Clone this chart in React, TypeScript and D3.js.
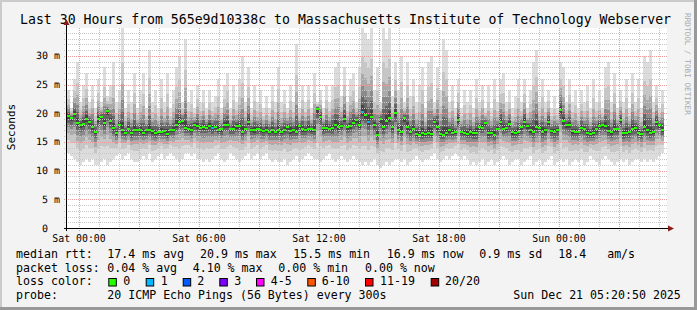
import React from "react";
import * as d3 from "d3";

// ---------- data ----------
const START = new Date(2025, 11, 19, 23, 24, 0);
const END = new Date(2025, 11, 21, 5, 24, 0);
const STEP_MIN = 9;

const medianMs = [
  19.5, 19.2, 19.9, 18.3, 17.9, 18.2, 19.0, 18.5, 17.6, 16.8,
  19.0, 19.4, 18.3, 20.4, 18.7, 17.4, 16.5, 18.0, 17.0, 16.6,
  17.2, 16.6, 17.1, 17.1, 17.0, 16.5, 17.0, 17.1, 16.9, 16.5,
  16.8, 16.7, 16.9, 16.4, 17.0, 17.1, 18.0, 18.5, 18.6, 17.4,
  17.3, 17.1, 18.0, 17.8, 17.5, 17.6, 17.5, 17.8, 17.4, 17.6,
  17.1, 17.2, 18.0, 17.9, 17.2, 17.3, 17.8, 17.7, 16.7, 17.3,
  18.4, 17.1, 17.0, 17.2, 17.1, 16.9, 17.1, 16.8, 17.0, 16.7,
  17.0, 16.8, 17.1, 17.6, 16.9, 17.0, 16.8, 17.7, 17.2, 17.1,
  17.3, 17.2, 17.1, 20.8, 19.4, 17.4, 17.5, 17.3, 17.4, 18.0,
  17.6, 17.8, 19.0, 17.6, 17.7, 18.3, 18.8, 18.0, 20.3, 19.7,
  18.5, 19.4, 18.0, 16.2, 19.0, 17.6, 18.6, 19.2, 17.6, 20.0,
  17.1, 16.8, 19.1, 17.6, 16.8, 17.3, 16.4, 16.3, 16.5, 16.4,
  16.6, 16.4, 18.5, 17.6, 16.4, 16.3, 16.5, 17.0, 16.6, 16.7,
  18.8, 16.8, 16.5, 16.4, 16.7, 16.5, 16.6, 17.6, 17.5, 18.3,
  16.5, 16.6, 16.2, 17.3, 18.5, 17.3, 17.5, 18.1, 16.7, 16.5,
  16.7, 17.6, 18.5, 17.8, 17.0, 16.8, 17.6, 17.5, 16.8, 17.0,
  18.5, 16.9, 16.8, 17.1, 20.6, 18.6, 18.0, 17.9, 16.9, 16.7,
  16.8, 17.4, 17.3, 16.6, 16.4, 16.6, 17.2, 17.8, 17.9, 17.7,
  16.9, 16.7, 17.3, 17.2, 18.8, 16.5, 16.6, 16.8, 17.3, 17.4,
  16.5, 16.4, 17.6, 17.0, 16.5, 16.8, 18.4, 17.9, 17.0,
];

const smokeHiMs = [
  24, 21, 26, 29, 22, 25, 27, 22, 25, 21,
  26, 22, 28, 23, 25, 29, 22, 24, 35, 21,
  24, 22, 27, 21, 24, 27, 21, 31, 22, 24,
  21, 26, 22, 27, 21, 24, 28, 30, 22, 33,
  22, 24, 21, 25, 22, 24, 21, 24, 22, 23,
  26, 21, 25, 27, 21, 25, 22, 26, 30, 22,
  28, 21, 25, 22, 24, 21, 23, 21, 25, 22,
  28, 22, 24, 21, 25, 22, 32, 21, 25, 22,
  25, 21, 27, 22, 24, 21, 25, 22, 25, 28,
  29, 23, 28, 22, 26, 27, 22, 28, 35, 34,
  33, 35, 24, 28, 22, 35, 33, 35, 23, 29,
  24, 30, 22, 29, 23, 26, 22, 25, 28, 21,
  29, 30, 22, 28, 24, 33, 31, 22, 25, 21,
  26, 21, 24, 22, 24, 21, 26, 22, 25, 21,
  25, 21, 26, 22, 26, 27, 22, 24, 21, 23,
  26, 22, 26, 21, 24, 29, 31, 22, 26, 22,
  24, 21, 23, 21, 29, 28, 22, 26, 22, 24,
  21, 24, 22, 25, 21, 26, 22, 24, 21, 28,
  29, 22, 27, 21, 24, 22, 26, 21, 27, 22,
  26, 21, 30, 29, 31, 22, 25, 21, 24,
];

const smokeLoMs = [
  13, 12.5, 12, 11.5, 11, 11.5, 12, 11.5, 12, 11,
  11, 11.5, 12, 11, 11.5, 12, 12.5, 13, 12, 12.5,
  13, 12, 11.5, 11.5, 12, 12.5, 12, 13, 11.5, 12,
  12.5, 13, 12, 12.5, 13, 12.5, 12, 11.5, 12, 13,
  13, 12.5, 13, 12, 12, 11.5, 12, 11.5, 12, 12.5,
  13, 12, 11.5, 12, 13, 12.5, 12, 11.5, 12, 12.5,
  13, 12, 12.5, 13, 12, 12.5, 13, 12, 11.5, 12,
  11.5, 11.5, 12, 11, 11.5, 12, 12.5, 11.5, 12, 12.5,
  13, 12.5, 12, 12, 11.5, 12, 12.5, 13, 12, 11.5,
  12, 12.5, 12, 11.5, 12, 12.5, 12, 11.5, 11, 11.5,
  11, 11.5, 12, 11, 10.5, 11, 11.5, 11, 11.5, 12,
  12, 11.5, 12, 11, 11.5, 12, 12.5, 12, 11.5, 12,
  12, 12.5, 13, 12, 11.5, 12, 12.5, 12, 12.5, 13,
  12.5, 12, 12.5, 12, 11, 11.5, 11, 11.5, 12, 11,
  11.5, 12, 11, 11.5, 12, 12.5, 12, 11, 11.5, 12,
  12, 11, 11.5, 12, 12.5, 11, 11.5, 12, 11, 11.5,
  12, 12.5, 11, 11.5, 12, 11.5, 12, 11, 11.5, 12,
  11.5, 12, 11, 11.5, 12.5, 12, 11.5, 11, 12, 12.5,
  12, 11.5, 11, 11.5, 12, 11.5, 12, 11, 11.5, 12,
  12, 11.5, 12, 11.5, 12, 11.5, 12, 12.5, 13,
];

// pings lost (of 20) at the given sample indices; all other samples lost 0
const lossSampleIndex = [48, 98, 100];
const lossSampleCount = [1, 1, 1];

const yTickValues = [0, 5, 10, 15, 20, 25, 30];
const yTickLabels = ["0", "5 m", "10 m", "15 m", "20 m", "25 m", "30 m"];

const lossLegendLabels = ["0", "1", "2", "3", "4-5", "6-10", "11-19", "20/20"];
const lossLegendColors = ["#26ff00", "#00b8ff", "#0059ff", "#7e00ff", "#ff00ff", "#ff5500", "#ff0000", "#a10000"];

const rttStats = ["17.4 ms avg", "20.9 ms max", "15.5 ms min", "16.9 ms now", "0.9 ms sd", "18.4   am/s"];
const lossStats = ["0.04 % avg", "4.10 % max", "0.00 % min", "0.00 % now"];

const TITLE = "Last 30 Hours from 565e9d10338c to Massachusetts Institute of Technology Webserver";
const PROBE = "20 ICMP Echo Pings (56 Bytes) every 300s";
const STAMP = "Sun Dec 21 05:20:50 2025";

// ---------- layout / style ----------
const W = 697, H = 310;
const L = 67, R = 667, T = 28, B = 228;
const MONO = "'DejaVu Sans Mono', 'Liberation Mono', monospace";
const smokeFractions = [1, 0.65, 0.45, 0.3, 0.18, 0.08];
const smokeShades = ["#dcdcdc", "#c6c6c6", "#aaaaaa", "#8a8a8a", "#666666", "#444444"];
const rttX = [107.3, 200, 293.3, 386.7, 479.3, 558.3];
const lossX = [107.3, 192.7, 278.3, 365];
const swatchX = [108.3, 145.7, 182.7, 219.3, 256, 307.3, 365, 430.7];
const swatchLabelX = [123.3, 160.7, 197.3, 234.3, 270.7, 321.7, 380, 445];

function lossColor(n: number) {
  if (n <= 0) return lossLegendColors[0];
  if (n === 1) return lossLegendColors[1];
  if (n === 2) return lossLegendColors[2];
  if (n === 3) return lossLegendColors[3];
  if (n <= 5) return lossLegendColors[4];
  if (n <= 10) return lossLegendColors[5];
  if (n <= 19) return lossLegendColors[6];
  return lossLegendColors[7];
}

export default function App() {
  const x = d3.scaleTime().domain([START, END]).range([L, R]);
  const y = d3.scaleLinear().domain([0, 34.87]).range([B, T]).clamp(true);

  const times = medianMs.map((_, i) => d3.timeMinute.offset(START, i * STEP_MIN));
  const lossAt = (i: number) => {
    const k = lossSampleIndex.indexOf(i);
    return k >= 0 ? lossSampleCount[k] : 0;
  };

  const hours = d3.timeHour.range(d3.timeHour.ceil(START), END);
  const fmt = d3.timeFormat("%a %H:%M");
  const minorY = d3.range(1, 35).filter((v) => v % 5 !== 0);
  const majorY = d3.range(5, 35, 5);

  const smoke: JSX.Element[] = [];
  medianMs.forEach((m, i) => {
    const x0 = x(times[i]);
    const x1 = x(d3.timeMinute.offset(times[i], STEP_MIN));
    const hi = smokeHiMs[i];
    const lo = smokeLoMs[i];
    smokeFractions.forEach((f, k) => {
      const top = y(m + f * (hi - m));
      const bot = y(m - f * (m - lo));
      smoke.push(
        <rect key={`s${i}-${k}`} x={x0} y={top} width={x1 - x0} height={Math.max(0, bot - top)} fill={smokeShades[k]} />
      );
    });
  });

  const medians = medianMs.map((m, i) => {
    const x0 = x(times[i]);
    const x1 = x(d3.timeMinute.offset(times[i], STEP_MIN));
    return <rect key={`m${i}`} x={x0} y={y(m) - 1} width={x1 - x0} height={2} fill={lossColor(lossAt(i))} />;
  });

  const LEG = 11.6;
  return (
    <svg width={W} height={H} style={{ position: "absolute", left: 0, top: 0 }} fontFamily={MONO}>
      <rect x={0} y={0} width={W} height={H} fill="#f3f3f3" />
      <rect x={0} y={0} width={W} height={2} fill="#cbcbcb" />
      <rect x={0} y={0} width={2} height={H} fill="#cbcbcb" />
      <rect x={W - 3} y={0} width={3} height={H} fill="#999999" />
      <rect x={0} y={H - 3} width={W} height={3} fill="#999999" />

      <text x={20} y={24} fontSize={13.2} fill="#000">{TITLE}</text>

      <rect x={L} y={T} width={R - L} height={B - T} fill="#ffffff" />
      <g shapeRendering="crispEdges">{smoke}</g>

      {/* grid */}
      <g shapeRendering="crispEdges" strokeDasharray="1,1">
        {minorY.map((v) => (
          <line key={`gy${v}`} x1={L - 3} x2={R} y1={Math.round(y(v)) + 0.5} y2={Math.round(y(v)) + 0.5} stroke="#c8c8c8" />
        ))}
        {hours.filter((h) => h.getHours() % 3 !== 0).map((h) => (
          <line key={`gx${+h}`} x1={Math.round(x(h)) + 0.5} x2={Math.round(x(h)) + 0.5} y1={T} y2={B + 3} stroke="#c8c8c8" />
        ))}
        {majorY.map((v) => (
          <line key={`My${v}`} x1={L - 3} x2={R} y1={Math.round(y(v)) + 0.5} y2={Math.round(y(v)) + 0.5} stroke="#ee9a9a" />
        ))}
        {hours.filter((h) => h.getHours() % 3 === 0).map((h) => (
          <line key={`Mx${+h}`} x1={Math.round(x(h)) + 0.5} x2={Math.round(x(h)) + 0.5} y1={T} y2={B + 3} stroke="#ee9a9a" />
        ))}
      </g>

      <g shapeRendering="crispEdges">{medians}</g>

      {/* axes */}
      <line x1={L - 0.5} x2={L - 0.5} y1={B + 3} y2={24} stroke="#000" />
      <line x1={L - 3} x2={669} y1={B + 0.5} y2={B + 0.5} stroke="#000" />
      <polygon points={`${L - 3.5},25 ${L + 2.5},25 ${L - 0.5},19.5`} fill="#8b1a1a" />
      <polygon points={`668,225.5 668,231.5 674,228.5`} fill="#8b1a1a" />

      {/* y labels */}
      <g textRendering="geometricPrecision">
        {yTickValues.map((v, i) => (
          <text key={`yl${v}`} x={v === 0 ? 48 : 60} y={y(v) + 3.5} fontSize={10} textAnchor="end" fill="#000" xmlSpace="preserve">
            {yTickLabels[i]}
          </text>
        ))}
      </g>
      {/* x labels */}
      {hours.filter((h) => h.getHours() % 6 === 0).map((h) => (
        <text key={`xl${+h}`} x={x(h)} y={242} fontSize={9.85} textAnchor="middle" fill="#000">{fmt(h)}</text>
      ))}

      <text transform="translate(14.5,127) rotate(-90)" fontSize={11} textAnchor="middle" fill="#000">Seconds</text>
      <text transform="translate(685,13) rotate(90)" fontSize={7.7} fill="#a8a8a8">RRDTOOL / TOBI OETIKER</text>

      {/* legend */}
      <g fontSize={LEG} fill="#000" style={{ whiteSpace: "pre" }}>
        <text x={16} y={258}>median rtt:</text>
        {rttStats.map((s, i) => (
          <text key={`r${i}`} x={rttX[i]} y={258} xmlSpace="preserve">{s}</text>
        ))}
        <text x={16} y={271.7}>packet loss:</text>
        {lossStats.map((s, i) => (
          <text key={`l${i}`} x={lossX[i]} y={271.7} xmlSpace="preserve">{s}</text>
        ))}
        <text x={16} y={285.3}>loss color:</text>
        {lossLegendLabels.map((s, i) => (
          <g key={`c${i}`}>
            <rect x={swatchX[i] + 0.5} y={278.5} width={7.5} height={7.5} fill={lossLegendColors[i]} stroke="#000" strokeWidth={1} />
            <text x={swatchLabelX[i]} y={285.3}>{s}</text>
          </g>
        ))}
        <text x={16} y={299}>probe:</text>
        <text x={107.3} y={299}>{PROBE}</text>
        <text x={513.3} y={299}>{STAMP}</text>
      </g>
    </svg>
  );
}
